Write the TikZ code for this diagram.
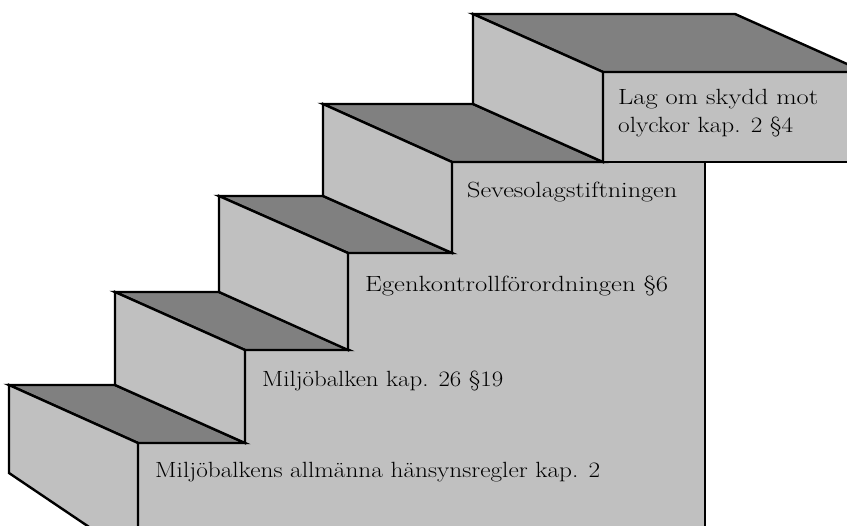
\documentclass[tikz,border=0pt]{standalone}
\usepackage{fontspec}
\setmainfont{Latin Modern Roman}
\newcommand\fitw[2]{\resizebox{#1pt}{\height}{#2}}
\tikzset{
  light/.style={fill={rgb,255:red,192;green,192;blue,192}, draw=black, line width=2.4pt, line join=miter},
  dark/.style={fill={rgb,255:red,128;green,128;blue,128}, draw=black, line width=2.4pt, line join=miter},
  lbl/.style={anchor=base west, inner sep=0pt, font=\fontsize{22}{28}\selectfont, text=black}
}
\begin{document}
\begin{tikzpicture}[x=1pt,y=-1pt]
\useasboundingbox (0,0) rectangle (847,526);
\clip (0,0) rectangle (847,526);
% front facade
\draw[light] (138,560) -- (138,443) -- (245,443) -- (245,350) -- (348,350) -- (348,253) -- (452,253) -- (452,162) -- (705,162) -- (705,560) -- cycle;
% top step front
\draw[light] (603,72) rectangle (900,162);
% top faces
\draw[dark] (9,385) -- (115,385) -- (245,443) -- (138,443) -- cycle;
\draw[dark] (115,292) -- (219,292) -- (349,350) -- (245,350) -- cycle;
\draw[dark] (219,196) -- (323,196) -- (452,253) -- (348,253) -- cycle;
\draw[dark] (323,104) -- (473,104) -- (603,162) -- (452,162) -- cycle;
\draw[dark] (473,14) -- (735,14) -- (865,72) -- (603,72) -- cycle;
% left faces
\draw[light] (9,385) -- (138,443) -- (138,560) -- (9,473) -- cycle;
\draw[light] (115,292) -- (245,350) -- (245,443) -- (115,385) -- cycle;
\draw[light] (219,196) -- (348,253) -- (348,350) -- (219,292) -- cycle;
\draw[light] (323,104) -- (452,162) -- (452,253) -- (323,196) -- cycle;
\draw[light] (473,14) -- (603,72) -- (603,162) -- (473,104) -- cycle;
% labels
\node[lbl] (t1) at (155,478) {\fitw{445}{Miljöbalkens allmänna hänsynsregler kap. 2}};
\node[lbl] (t2) at (262,387) {\fitw{241}{Miljöbalken kap. 26 §19}};
\node[lbl] (t3) at (365,292) {\fitw{303}{Egenkontrollförordningen §6}};
\node[lbl] (t4) at (467,198) {\fitw{210}{Sevesolagstiftningen}};
\node[lbl] (t5) at (618,105) {\fitw{200}{Lag om skydd mot}};
\node[lbl] (t6) at (618,133) {\fitw{175}{olyckor kap. 2 §4}};
\end{tikzpicture}
\end{document}
